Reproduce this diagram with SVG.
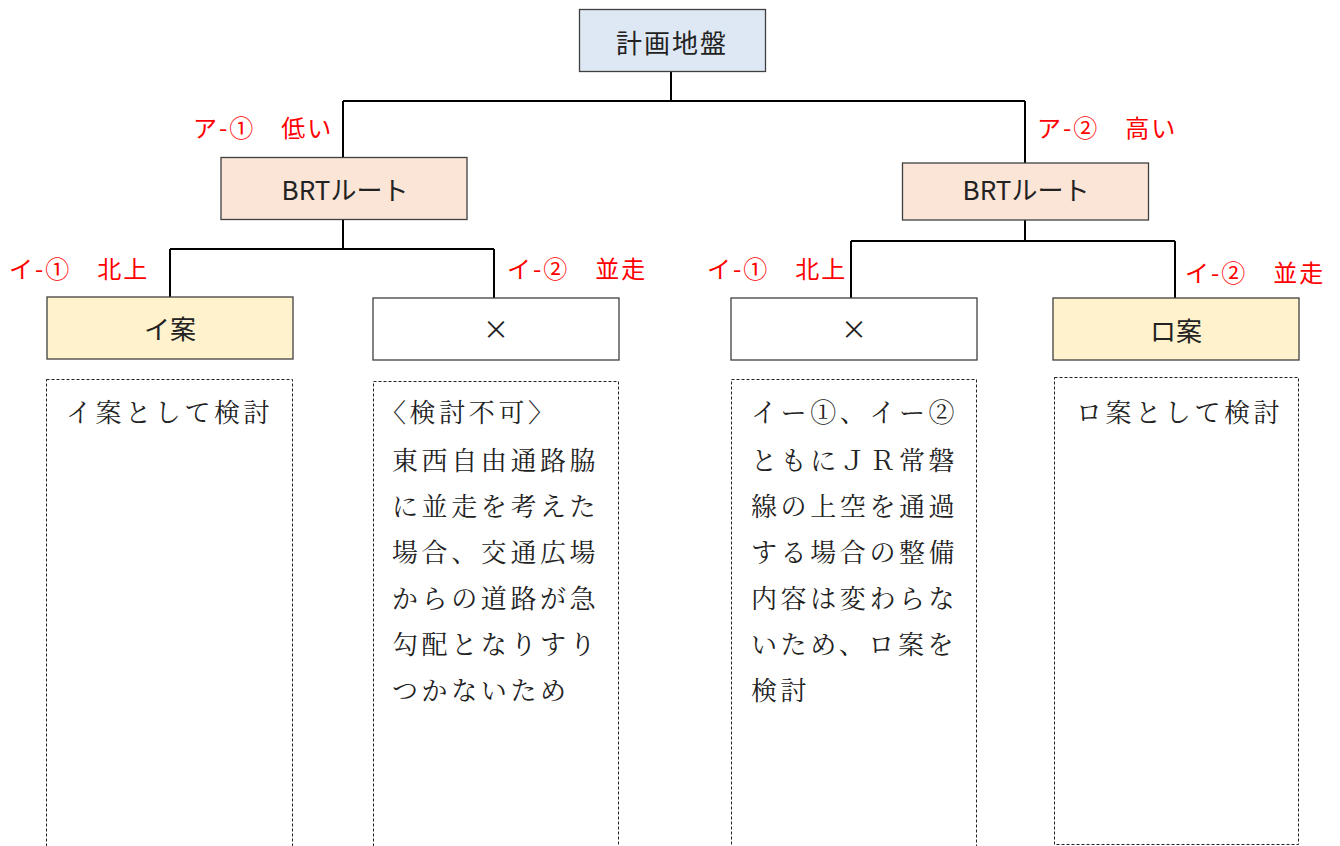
<svg xmlns="http://www.w3.org/2000/svg" width="1340" height="846" viewBox="0 0 1340 846">
<style>
.box{stroke:#3f3f3f;stroke-width:1.3}
.note{fill:#fff;stroke:#222;stroke-width:1;stroke-dasharray:3 2}
.lbl{font-family:"Noto Sans CJK JP","Noto Sans",sans-serif;font-size:26px;fill:#222;text-anchor:middle}
.red{font-family:"Noto Sans CJK JP","Noto Sans",sans-serif;font-size:24px;fill:#ff0000;letter-spacing:2px}
.txt{font-family:"Noto Serif CJK JP","Liberation Serif","Noto Sans CJK JP",serif;font-size:26px;fill:#222;letter-spacing:3.6px}
.con{fill:none;stroke:#000;stroke-width:2}
</style>
<rect width="1340" height="846" fill="#fff"/>
<g id="connectors">
<path class="con" d="M671 71V101M343 101H1025M343 101V157M1025 101V163"/>
<path class="con" d="M343 219V249M170 249H494M170 249V297M494 249V298"/>
<path class="con" d="M1025 219V241M851 241H1175M851 241V298M1175 241V298"/>
</g>
<g id="root">
<rect class="box" x="579.5" y="9.5" width="186" height="62" fill="#dee8f4"/>
<text class="lbl" x="672" y="53" letter-spacing="2">計画地盤</text>
</g>
<g id="brt-left">
<rect class="box" x="221" y="157.5" width="246" height="62" fill="#fae5d7"/>
<text class="lbl" x="345" y="200">BRTルート</text>
<text class="red" x="193" y="137">ア-①　低い</text>
</g>
<g id="brt-right">
<rect class="box" x="902.5" y="163" width="246" height="57" fill="#fae5d7"/>
<text class="lbl" x="1026" y="200">BRTルート</text>
<text class="red" x="1037" y="137">ア-②　高い</text>
</g>
<g id="i-an">
<rect class="box" x="47" y="297" width="246" height="62" fill="#fff2cc"/>
<text class="lbl" x="170" y="339">イ案</text>
<text class="red" x="9" y="278">イ-①　北上</text>
</g>
<g id="x-left">
<rect class="box" x="373" y="298" width="246" height="62" fill="#fff"/>
<text class="lbl" x="496" y="339">×</text>
<text class="red" x="507" y="278">イ-②　並走</text>
</g>
<g id="x-right">
<rect class="box" x="731" y="298" width="246" height="62" fill="#fff"/>
<text class="lbl" x="854" y="339">×</text>
<text class="red" x="707" y="278">イ-①　北上</text>
</g>
<g id="ro-an">
<rect class="box" x="1053" y="298" width="246" height="62" fill="#fff2cc"/>
<text class="lbl" x="1176" y="341">ロ案</text>
<text class="red" x="1185" y="282">イ-②　並走</text>
</g>
<g id="note1">
<rect class="note" x="46.5" y="379.5" width="246" height="480"/>
<text class="txt" x="66" y="422">イ案として検討</text>
</g>
<g id="note2">
<rect class="note" x="373.5" y="381.5" width="245" height="480"/>
<text class="txt" x="380" y="422">〈検討不可〉</text>
<text class="txt" x="392" y="470">東西自由通路脇</text>
<text class="txt" x="392" y="516">に並走を考えた</text>
<text class="txt" x="392" y="562">場合、交通広場</text>
<text class="txt" x="392" y="608">からの道路が急</text>
<text class="txt" x="392" y="654">勾配となりすり</text>
<text class="txt" x="392" y="700">つかないため</text>
</g>
<g id="note3">
<rect class="note" x="731.5" y="379.5" width="245" height="480"/>
<text class="txt" x="751" y="422">イー①、イー②</text>
<text class="txt" x="751" y="470">ともにＪＲ常磐</text>
<text class="txt" x="751" y="516">線の上空を通過</text>
<text class="txt" x="751" y="562">する場合の整備</text>
<text class="txt" x="751" y="608">内容は変わらな</text>
<text class="txt" x="751" y="654">いため、ロ案を</text>
<text class="txt" x="751" y="700">検討</text>
</g>
<g id="note4">
<rect class="note" x="1054.5" y="377.5" width="244" height="467"/>
<text class="txt" x="1076" y="422">ロ案として検討</text>
</g>
</svg>
